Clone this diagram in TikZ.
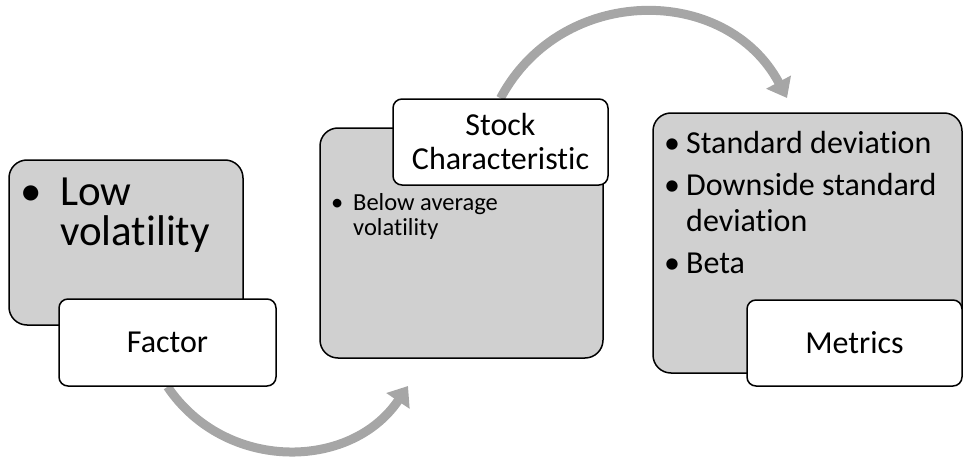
\documentclass[tikz,border=0pt]{standalone}
\usepackage{fontspec}
\setmainfont{Carlito}[Ligatures={NoCommon}]
\usetikzlibrary{arrows.meta,backgrounds}

\definecolor{panelgray}{HTML}{D0D0D0}
\definecolor{flowgray}{HTML}{A6A6A6}

\tikzset{
  panel/.style={draw=black, line width=1.5pt, fill=panelgray, rounded corners=18pt, inner sep=0pt},
  tag/.style={draw=black, line width=1.5pt, fill=white, rounded corners=9pt, inner sep=0pt,
    align=center, font=\fontsize{32}{34}\selectfont},
  items/.style={align=left, inner sep=0pt, anchor=base west},
  flow/.style={flowgray, line width=9pt, -{Triangle[length=18pt,width=27pt]}}
}

\begin{document}
\begin{tikzpicture}[x=1pt,y=1pt]

\useasboundingbox (0,0) rectangle (964,459);

\node[panel, minimum width=234, minimum height=165] (lowpanel) at (126,216.5) {};
\node[tag, minimum width=217, minimum height=87] (factor) at (167.5,116.5) {Factor};

\node[panel, minimum width=283, minimum height=230] (charpanel) at (461.5,216) {};
\node[tag, minimum width=215, minimum height=86] (stock) at (500.5,317) {Stock\\Characteristic};

\node[panel, minimum width=309, minimum height=260] (metpanel) at (807.5,216) {};
\node[tag, minimum width=215, minimum height=86] (metrics) at (854.5,116) {Metrics};

% bullet texts (base = last line)
\node[items, font=\fontsize{43}{40}\selectfont] (lowtext) at (20,214)
  {\makebox[40pt][l]{\textbullet}Low\\\hspace*{40pt}volatility};
\node[items, font=\fontsize{24.5}{25}\selectfont] (chartext) at (331,224)
  {\makebox[22pt][l]{\textbullet}Below average\\\hspace*{22pt}volatility};
\node[items, font=\fontsize{32}{36}\selectfont] (mettext) at (664,186)
  {\makebox[22pt][l]{\textbullet}Standard deviation\\[6pt]
   \makebox[22pt][l]{\textbullet}Downside standard\\
   \hspace*{22pt}deviation\\[6pt]
   \makebox[22pt][l]{\textbullet}Beta};

% arrows
\coordinate (midtip) at (408,73);
\coordinate (lasttip) at (787,361);
\begin{scope}[on background layer]
\draw[flow] (factor.south) to[out=-56, in=-124, looseness=1.09] (midtip);
\draw[flow] (stock.north) to[out=62, in=118, looseness=1.16] (lasttip);
\end{scope}

\end{tikzpicture}
\end{document}
